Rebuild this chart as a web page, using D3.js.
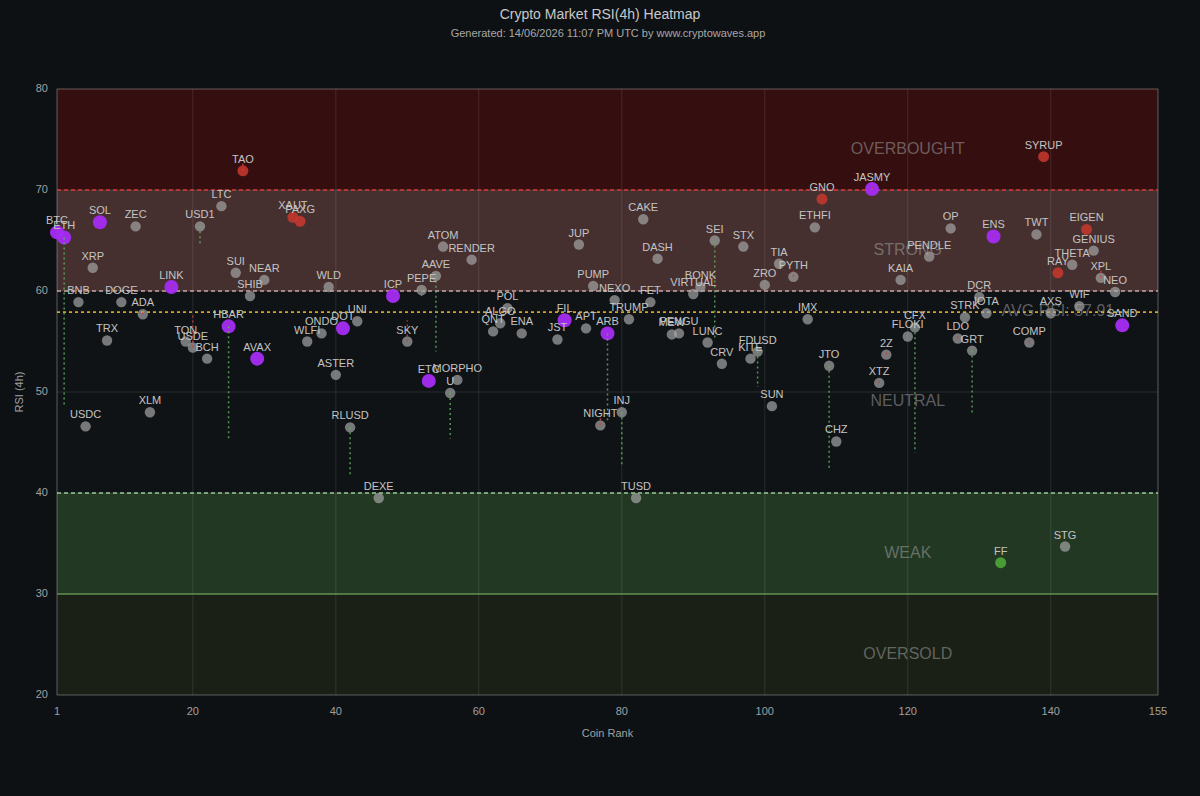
<!DOCTYPE html>
<html>
<head>
<meta charset="utf-8">
<script src="https://cdn.jsdelivr.net/npm/d3@7"></script>
<style>
  html, body { margin: 0; padding: 0; background: #0e1114; }
  text { font-family: "Liberation Sans", Arial, sans-serif; }
</style>
</head>
<body>
<script>
// coins, grouped 10 per line so the three lists stay in step
var coinNames = [
    "BTC","ETH","BNB","USDC","XRP","SOL","TRX","DOGE","ZEC","ADA",
    "XLM","LINK","TON","USDE","USD1","BCH","LTC","HBAR","SUI","TAO",
    "SHIB","AVAX","NEAR","XAUT","PAXG","WLFI","ONDO","WLD","ASTER","DOT",
    "RLUSD","UNI","DEXE","ICP","SKY","PEPE","ETC","AAVE","ATOM","U",
    "MORPHO","RENDER","QNT","ALGO","POL","ENA","JST","FIL","JUP","APT",
    "PUMP","NIGHT","ARB","NEXO","INJ","TRUMP","TUSD","CAKE","FET","DASH",
    "MEW","PENGU","VIRTUAL","BONK","LUNC","SEI","CRV","STX","KITE","FDUSD",
    "ZRO","SUN","TIA","PYTH","IMX","ETHFI","GNO","JTO","CHZ","JASMY",
    "XTZ","2Z","KAIA","FLOKI","CFX","PENDLE","OP","LDO","STRK","GRT",
    "DCR","IOTA","ENS","FF","COMP","TWT","SYRUP","AXS","RAY","STG",
    "THETA","WIF","EIGEN","GENIUS","XPL","NEO","SAND"
];

var coinRanks = [
    1,2,4,5,6,7,8,10,12,13,
    14,17,19,20,21,22,24,25,26,27,
    28,29,30,34,35,36,38,39,40,41,
    42,43,46,48,50,52,53,54,55,56,
    57,59,62,63,64,66,71,72,74,75,
    76,77,78,79,80,81,82,83,84,85,
    87,88,90,91,92,93,94,97,98,99,
    100,101,102,104,106,107,108,109,110,115,
    116,117,119,120,121,123,126,127,128,129,
    130,131,132,133,137,138,139,140,141,142,
    143,144,145,146,147,149,150
];

var coinRsi = [
    65.8,65.3,58.9,46.6,62.3,66.8,55.1,58.9,66.4,57.7,
    48.0,60.4,55.0,54.4,66.4,53.3,68.4,56.5,61.8,71.9,
    59.5,53.3,61.1,67.3,66.9,55.0,55.8,60.4,51.7,56.3,
    46.5,57.0,39.5,59.5,55.0,60.1,51.1,61.5,64.4,49.9,
    51.2,63.1,56.0,56.8,58.3,55.8,55.2,57.1,64.6,56.3,
    60.5,46.7,55.8,59.1,48.0,57.2,39.5,67.1,58.9,63.2,
    55.7,55.8,59.7,60.4,54.9,65.0,52.8,64.4,53.3,54.0,
    60.6,48.6,62.7,61.4,57.2,66.3,69.1,52.6,45.1,70.1,
    50.9,53.7,61.1,55.5,56.4,63.4,66.2,55.3,57.4,54.1,
    59.4,57.8,65.4,33.1,54.9,65.6,73.3,57.8,61.8,34.7,
    62.6,58.5,66.1,64.0,61.3,59.9,56.6
];

// previous RSI reading, only where the change line is visible
var prevRsi = {
    "ETH": 48.5, "USD1": 64.7, "USDE": 57.8, "HBAR": 45.3, "SKY": 57.1,
    "PEPE": 59.5, "AAVE": 54.0, "U": 45.4, "ARB": 47.2, "INJ": 42.6,
    "SEI": 55.1, "FDUSD": 50.5, "JTO": 42.3, "CFX": 44.0, "GRT": 47.7,
    "RLUSD": 41.6, "TAO": 72.6, "PYTH": 62.0, "ADA": 58.2, "NIGHT": 47.4,
    "2Z": 54.2, "XTZ": 51.3, "LDO": 55.8, "COMP": 55.3, "JASMY": 70.6,
    "ENS": 65.9, "XPL": 62.4, "LINK": 60.9
};

var topCoins = ["BTC","ETH","SOL","LINK","HBAR","AVAX","DOT","ICP","ETC","FIL","ARB","JASMY","ENS","SAND"];
var hotCoins = ["TAO","XAUT","PAXG","GNO","SYRUP","EIGEN","RAY"];
var coldCoins = ["FF"];

var avgRsi = 57.91;

var zoneNames = ["OVERBOUGHT", "STRONG", "NEUTRAL", "WEAK", "OVERSOLD"];
var zoneEdges = [[70, 80], [60, 70], [40, 60], [30, 40], [20, 30]];

var xTickValues = [1, 20, 40, 60, 80, 100, 120, 140, 155];
var yTickValues = [20, 30, 40, 50, 60, 70, 80];

var titleText = "Crypto Market RSI(4h) Heatmap";
var subtitleText = "Generated: 14/06/2026 11:07 PM UTC by www.cryptowaves.app";

// ---------------------------------------------------------------

var width = 1200;
var height = 796;
var margin = {top: 89, right: 42, bottom: 101, left: 57};

var svg = d3.select("body").append("svg")
            .attr("width", width)
            .attr("height", height);

svg.append("rect")
   .attr("width", width)
   .attr("height", height)
   .attr("fill", "#0e1114");

var x = d3.scaleLinear()
          .domain([1, 155])
          .range([margin.left, width - margin.right]);

var y = d3.scaleLinear()
          .domain([20, 80])
          .range([height - margin.bottom, margin.top]);

var zoneFills = ["#350f10", "#46302f", "#101316", "#233823", "#1a2016"];

svg.selectAll("rect.zone")
   .data(zoneEdges)
   .enter()
   .append("rect")
   .attr("class", "zone")
   .attr("x", x(1))
   .attr("width", x(155) - x(1))
   .attr("y", function(d) { return y(d[1]); })
   .attr("height", function(d) { return y(d[0]) - y(d[1]); })
   .attr("fill", function(d, i) { return zoneFills[i]; });

// grid
svg.selectAll("line.vgrid")
   .data(xTickValues)
   .enter()
   .append("line")
   .attr("x1", function(d) { return x(d); })
   .attr("x2", function(d) { return x(d); })
   .attr("y1", y(80))
   .attr("y2", y(20))
   .attr("stroke", "rgba(255,255,255,0.1)");

svg.selectAll("line.hgrid")
   .data(yTickValues)
   .enter()
   .append("line")
   .attr("x1", x(1))
   .attr("x2", x(155))
   .attr("y1", function(d) { return y(d); })
   .attr("y2", function(d) { return y(d); })
   .attr("stroke", "rgba(255,255,255,0.1)");

// frame
svg.append("rect")
   .attr("x", x(1))
   .attr("y", y(80))
   .attr("width", x(155) - x(1))
   .attr("height", y(20) - y(80))
   .attr("fill", "none")
   .attr("stroke", "rgba(255,255,255,0.22)");

// zone names
svg.selectAll("text.zone")
   .data(zoneNames)
   .enter()
   .append("text")
   .attr("x", x(120))
   .attr("y", function(d, i) { return y((zoneEdges[i][0] + zoneEdges[i][1]) / 2 - 1); })
   .attr("text-anchor", "middle")
   .attr("dominant-baseline", "middle")
   .attr("font-size", 16)
   .attr("fill", "rgba(170,170,170,0.5)")
   .text(function(d) { return d; });

// threshold lines
function hline(v, color, dash, w) {
    svg.append("line")
       .attr("x1", x(1))
       .attr("x2", x(155))
       .attr("y1", y(v))
       .attr("y2", y(v))
       .attr("stroke", color)
       .attr("stroke-width", w)
       .attr("stroke-dasharray", dash);
}

hline(70, "#d9383a", "4,3", 1.4);
hline(60, "#c9a3a3", "4,3", 1.4);
hline(40, "#93cc93", "4,3", 1.4);
hline(30, "#5f8e4c", null, 1.4);
hline(avgRsi, "#d4a32a", "3,3", 1.8);

svg.append("text")
   .attr("x", x(141))
   .attr("y", y(avgRsi))
   .attr("text-anchor", "middle")
   .attr("dominant-baseline", "middle")
   .attr("font-size", 16)
   .attr("fill", "rgba(170,170,170,0.5)")
   .text("AVG RSI: " + avgRsi.toFixed(2));

// points
var coins = coinNames.map(function(name, i) {
    var kind = "";
    if (topCoins.indexOf(name) >= 0) kind = "top";
    else if (hotCoins.indexOf(name) >= 0) kind = "hot";
    else if (coldCoins.indexOf(name) >= 0) kind = "cold";
    return {name: name, rank: coinRanks[i], rsi: coinRsi[i], prev: prevRsi[name], kind: kind};
});

svg.selectAll("circle.coin")
   .data(coins)
   .enter()
   .append("circle")
   .attr("class", "coin")
   .attr("cx", function(d) { return x(d.rank); })
   .attr("cy", function(d) { return y(d.rsi); })
   .attr("r", function(d) {
       if (d.kind === "top") return 7;
       if (d.kind === "hot" || d.kind === "cold") return 5.5;
       return 5.2;
   })
   .attr("fill", function(d) {
       if (d.kind === "top") return "#a52cf3";
       if (d.kind === "hot") return "#c8372d";
       if (d.kind === "cold") return "#4fae3a";
       return "#a8a8a8";
   })
   .attr("fill-opacity", function(d) {
       if (d.kind === "top") return 0.95;
       if (d.kind === "") return 0.68;
       return 0.85;
   });

// change since previous reading
svg.selectAll("line.change")
   .data(coins.filter(function(d) { return d.prev !== undefined; }))
   .enter()
   .append("line")
   .attr("x1", function(d) { return x(d.rank); })
   .attr("x2", function(d) { return x(d.rank); })
   .attr("y1", function(d) { return y(d.rsi); })
   .attr("y2", function(d) { return y(d.prev); })
   .attr("stroke", function(d) { return d.prev < d.rsi ? "#5fae5f" : "#d23c3c"; })
   .attr("stroke-width", 1.5)
   .attr("stroke-dasharray", "2,3")
   .attr("opacity", 0.85);

svg.selectAll("text.coin")
   .data(coins)
   .enter()
   .append("text")
   .attr("x", function(d) { return x(d.rank); })
   .attr("y", function(d) { return y(d.rsi) - 8; })
   .attr("text-anchor", "middle")
   .attr("font-size", 11)
   .attr("fill", "#c4c4c4")
   .text(function(d) { return d.name; });

// axes text
svg.selectAll("text.ytick")
   .data(yTickValues)
   .enter()
   .append("text")
   .attr("x", x(1) - 9)
   .attr("y", function(d) { return y(d); })
   .attr("text-anchor", "end")
   .attr("dominant-baseline", "middle")
   .attr("font-size", 11)
   .attr("fill", "#a0a0a0")
   .text(function(d) { return d; });

svg.selectAll("text.xtick")
   .data(xTickValues)
   .enter()
   .append("text")
   .attr("x", function(d) { return x(d); })
   .attr("y", y(20) + 17)
   .attr("text-anchor", "middle")
   .attr("dominant-baseline", "middle")
   .attr("font-size", 11)
   .attr("fill", "#a0a0a0")
   .text(function(d) { return d; });

svg.append("text")
   .attr("x", (x(1) + x(155)) / 2)
   .attr("y", 734)
   .attr("text-anchor", "middle")
   .attr("dominant-baseline", "middle")
   .attr("font-size", 11)
   .attr("fill", "#a0a0a0")
   .text("Coin Rank");

svg.append("text")
   .attr("transform", "translate(20," + ((y(20) + y(80)) / 2) + ") rotate(-90)")
   .attr("text-anchor", "middle")
   .attr("dominant-baseline", "middle")
   .attr("font-size", 11)
   .attr("fill", "#a0a0a0")
   .text("RSI (4h)");

svg.append("text")
   .attr("x", 600)
   .attr("y", 15)
   .attr("text-anchor", "middle")
   .attr("dominant-baseline", "middle")
   .attr("font-size", 14)
   .attr("fill", "#c8c8c8")
   .text(titleText);

svg.append("text")
   .attr("x", 608)
   .attr("y", 34)
   .attr("text-anchor", "middle")
   .attr("dominant-baseline", "middle")
   .attr("font-size", 11)
   .attr("fill", "#a8a8a8")
   .text(subtitleText);
</script>
</body>
</html>
